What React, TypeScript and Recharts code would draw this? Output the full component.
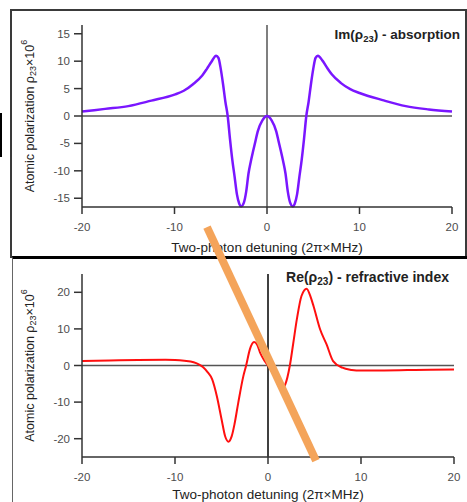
import { LineChart, Line, XAxis, YAxis, ReferenceLine } from "recharts";

const font = '"Liberation Sans", Arial, sans-serif';

// detuning ticks shared by both panels
const detuningTicks = [-20, -10, 0, 10, 20];
const imTicks = [-15, -10, -5, 0, 5, 10, 15];
const reTicks = [-20, -10, 0, 10, 20];

// Im(rho23) - absorption
const detuningIm = [
  -20, -17.5, -15, -12.5, -10, -9, -8, -7, -6.5, -6,
  -5.5, -5.25, -5, -4.75, -4.5, -4.25, -4, -3.75, -3.5, -3.25,
  -3, -2.8, -2.5, -2.25, -2, -1.75, -1.5, -1.25, -1, -0.5,
  0,
  0.5, 1, 1.25, 1.5, 1.75, 2, 2.25, 2.5, 2.8, 3,
  3.25, 3.5, 3.75, 4, 4.25, 4.5, 4.75, 5, 5.25, 5.5,
  6, 6.5, 7, 8, 9, 10, 12.5, 15, 17.5, 20,
];
const absorption = [
  0.8, 1.3, 1.8, 2.8, 3.9, 4.6, 5.8, 7.4, 8.6, 9.9,
  11.0, 10.6, 8.6, 5.8, 2.6, 0, -4.2, -8.0, -11.1, -14.3,
  -16.0, -16.5, -15.8, -13.8, -10.5, -8.3, -6.4, -4.6, -2.8, -0.8,
  0,
  -0.8, -2.8, -4.6, -6.4, -8.3, -10.5, -13.8, -15.8, -16.5, -16.0,
  -14.3, -11.1, -8.0, -4.2, 0, 2.6, 5.8, 8.6, 10.6, 11.0,
  10.1, 8.8, 7.6, 6.0, 4.9, 4.2, 2.9, 1.8, 1.2, 0.8,
];

// Re(rho23) - refractive index
const detuningRe = [
  -20, -17, -14, -11, -10, -9, -8, -7.5, -7, -6.5,
  -6, -5.5, -5, -4.6, -4.25, -3.9, -3.6, -3.2, -2.65, -2.35,
  -1.95, -1.5, -1.15, -0.85, -0.4, 0, 0.4, 0.85, 1.15, 1.5,
  1.85, 2.35, 2.7, 3.1, 3.6, 4.15, 4.6, 4.9, 5.6, 6.3,
  7, 8, 9, 10, 12.5, 15, 17.5, 20,
];
const refraction = [
  1.2, 1.35, 1.5, 1.55, 1.5, 1.3, 0.9, 0.4, -0.4, -1.8,
  -3.8, -8.4, -14.6, -19.4, -20.8, -19.3, -16.0, -10.2, -2.9, 0,
  4.4, 6.4, 5.6, 3.5, 1.4, 0, -1.6, -3.8, -5.6, -6.3,
  -5.2, 0, 5.8, 12.6, 19.0, 21.0, 18.6, 16.2, 9.9, 5.75,
  1.2, -0.6, -1.2, -1.4, -1.35, -1.25, -1.15, -1.1,
];

// the orange stroke drawn across the figure (detuning, polarization)
const strikeFrom = { x: -6.56, y: 37.8 };
const strikeTo = { x: 5.16, y: -26.0 };

const imRows = detuningIm.map((x, i) => ({ x, im: absorption[i] }));
const reRows = detuningRe.map((x, i) => ({ x, re: refraction[i] }));

const tickStyle = { fill: "#4d4d4d", fontSize: 11.5, fontFamily: font };

const XTitle = ({ viewBox, dy }: any) => (
  <text
    x={viewBox.x + viewBox.width / 2}
    y={viewBox.y + dy}
    textAnchor="middle"
    fill="#222"
    fontSize={13.5}
    fontFamily={font}
  >
    Two-photon detuning (2π×MHz)
  </text>
);

const YTitle = ({ viewBox }: any) => {
  const x = viewBox.x - 2;
  const y = viewBox.y + viewBox.height / 2;
  return (
    <text
      x={x}
      y={y}
      transform={`rotate(-90, ${x}, ${y})`}
      textAnchor="middle"
      dominantBaseline="central"
      fill="#222"
      fontSize={12.5}
      fontFamily={font}
    >
      <tspan>Atomic polarization ρ</tspan>
      <tspan fontSize={9} dy={3}>23</tspan>
      <tspan dy={-3}>×10</tspan>
      <tspan fontSize={9} dy={-6}>6</tspan>
    </text>
  );
};

const Title = ({ top, right, size, name, rest }: any) => (
  <div
    style={{
      position: "absolute",
      top,
      right,
      fontFamily: font,
      fontWeight: "bold",
      fontSize: size,
      lineHeight: "13px",
      color: "#222",
      whiteSpace: "nowrap",
      zIndex: 5,
    }}
  >
    {name}(ρ<span style={{ fontSize: size - 4, position: "relative", top: 3 }}>23</span>) - {rest}
  </div>
);

export default function App() {
  return (
    <div style={{ position: "absolute", left: 0, top: 0, width: 467, height: 502, background: "#fff", overflow: "hidden" }}>
      <style>{".recharts-surface{overflow:visible}"}</style>

      {/* frames */}
      <div style={{ position: "absolute", left: 0, top: 113, width: 2, height: 44, background: "#000" }} />
      <div
        style={{
          position: "absolute", left: 10, top: 9, width: 457, height: 249,
          border: "2px solid #3a3a3a", boxSizing: "border-box",
        }}
      />
      <div
        style={{
          position: "absolute", left: 12, top: 256, width: 470, height: 260,
          borderTop: "3px solid #000", borderLeft: "1.5px solid #666", boxSizing: "border-box",
        }}
      />

      {/* Im panel */}
      <div style={{ position: "absolute", left: 0, top: 0, zIndex: 1 }}>
        <LineChart width={467} height={258} data={imRows} margin={{ top: 25, right: 15, bottom: 0, left: 32 }}>
          <XAxis
            dataKey="x"
            type="number"
            domain={[-20, 20]}
            ticks={detuningTicks}
            tickSize={7}
            tickMargin={9}
            height={51}
            stroke="#333"
            strokeWidth={1.5}
            tick={tickStyle}
            label={<XTitle dy={45} />}
          />
          <YAxis
            type="number"
            domain={[-16.6, 16.6]}
            ticks={imTicks}
            width={50}
            tickSize={8}
            tickMargin={4}
            stroke="#333"
            strokeWidth={1.5}
            tick={tickStyle}
            label={<YTitle />}
          />
          <ReferenceLine y={0} stroke="#000" strokeWidth={1.2} />
          <ReferenceLine x={0} stroke="#555" strokeWidth={1.5} />
          <Line
            dataKey="im"
            type="monotone"
            stroke="#7a16ff"
            strokeWidth={2.5}
            dot={false}
            isAnimationActive={false}
          />
        </LineChart>
      </div>
      <Title top={28} right={7} size={13.5} name="Im" rest="absorption" />

      {/* Re panel */}
      <div style={{ position: "absolute", left: 0, top: 258, zIndex: 2 }}>
        <LineChart width={467} height={260} data={reRows} margin={{ top: 16, right: 13, bottom: 0, left: 32 }}>
          <XAxis
            dataKey="x"
            type="number"
            domain={[-20, 20]}
            ticks={detuningTicks}
            tickSize={7}
            tickMargin={9}
            height={61}
            stroke="#333"
            strokeWidth={1.5}
            tick={tickStyle}
            label={<XTitle dy={42} />}
          />
          <YAxis
            type="number"
            domain={[-25, 25]}
            ticks={reTicks}
            width={50}
            tickSize={8}
            tickMargin={4}
            stroke="#333"
            strokeWidth={1.5}
            tick={tickStyle}
            label={<YTitle />}
          />
          <ReferenceLine y={0} stroke="#555" strokeWidth={1.5} />
          <ReferenceLine x={0} stroke="#000" strokeWidth={1.5} />
          <Line
            dataKey="re"
            type="monotone"
            stroke="#ff0f0f"
            strokeWidth={2}
            dot={false}
            isAnimationActive={false}
          />
          <ReferenceLine
            segment={[strikeFrom, strikeTo]}
            stroke="#f4a45a"
            strokeWidth={8}
            ifOverflow="visible"
            zIndex={1000}
          />
        </LineChart>
      </div>
      <Title top={271} right={18} size={14} name="Re" rest="refractive index" />
    </div>
  );
}
